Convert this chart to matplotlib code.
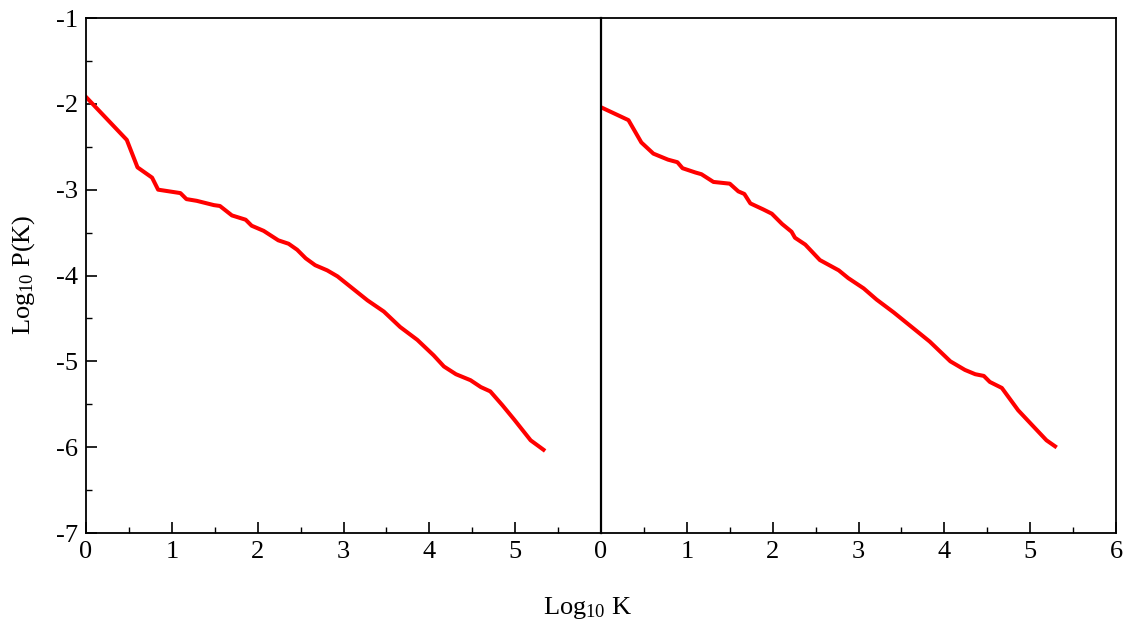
import matplotlib
matplotlib.use("Agg")
import matplotlib.pyplot as plt
from matplotlib.ticker import MultipleLocator, FixedLocator

plt.rcParams['font.family'] = ['Liberation Serif', 'DejaVu Serif']
plt.rcParams['mathtext.fontset'] = 'custom'
plt.rcParams['mathtext.rm'] = 'Liberation Serif'
plt.rcParams['mathtext.it'] = 'Liberation Serif:italic'

# Left panel data
left_x = [0.0, 0.475, 0.60, 0.77, 0.84, 1.10, 1.17, 1.29, 1.49, 1.56, 1.70, 1.86, 1.93,
          2.07, 2.24, 2.36, 2.46, 2.56, 2.67, 2.81, 2.93, 3.08, 3.28, 3.47, 3.66, 3.86,
          4.05, 4.17, 4.31, 4.48, 4.60, 4.71, 4.85, 4.99, 5.18, 5.33]
left_y = [-1.92, -2.42, -2.74, -2.86, -3.00, -3.04, -3.11, -3.13, -3.18, -3.19, -3.30, -3.35, -3.42,
          -3.48, -3.59, -3.63, -3.70, -3.80, -3.88, -3.94, -4.01, -4.13, -4.29, -4.42, -4.60, -4.75,
          -4.93, -5.06, -5.15, -5.22, -5.30, -5.35, -5.51, -5.68, -5.92, -6.03]

# Right panel data
right_x = [0.0, 0.32, 0.47, 0.61, 0.78, 0.89, 0.95, 1.10, 1.17, 1.31, 1.50, 1.60, 1.67, 1.74,
           1.89, 1.99, 2.11, 2.22, 2.26, 2.38, 2.55, 2.77, 2.88, 3.06, 3.21, 3.41, 3.62, 3.83,
           4.07, 4.24, 4.36, 4.46, 4.53, 4.67, 4.86, 5.02, 5.19, 5.29]
right_y = [-2.04, -2.19, -2.45, -2.58, -2.65, -2.68, -2.75, -2.80, -2.82, -2.91, -2.93, -3.02, -3.05, -3.16,
           -3.23, -3.28, -3.40, -3.49, -3.56, -3.64, -3.82, -3.94, -4.03, -4.15, -4.28, -4.43, -4.60, -4.77,
           -5.00, -5.10, -5.15, -5.17, -5.24, -5.31, -5.57, -5.74, -5.92, -5.99]

left_xticks = [0, 1, 2, 3, 4, 5]
right_xticks = [0, 1, 2, 3, 4, 5, 6]
yticks = [-7, -6, -5, -4, -3, -2, -1]

fig = plt.figure(figsize=(11.27, 6.28), dpi=100)
W, H = 1127, 628
x0, x1, x2 = 86, 601, 1116
ytop, ybot = 18, 533
ax1 = fig.add_axes([x0 / W, 1 - ybot / H, (x1 - x0) / W, (ybot - ytop) / H])
ax2 = fig.add_axes([x1 / W, 1 - ybot / H, (x2 - x1) / W, (ybot - ytop) / H])

fs = 19
for ax, xs, ys, xt in ((ax1, left_x, left_y, left_xticks), (ax2, right_x, right_y, right_xticks)):
    ax.plot(xs, ys, color='#ff0000', lw=2.9, solid_joinstyle='round')
    ax.set_xlim(0, 6)
    ax.set_ylim(-7, -1)
    ax.xaxis.set_major_locator(FixedLocator(xt))
    ax.xaxis.set_minor_locator(MultipleLocator(0.5))
    ax.set_xticklabels([str(v) for v in xt], fontsize=fs)
    ax.tick_params(axis='x', which='major', direction='in', length=8, width=1.2, pad=6,
                   top=False, bottom=True)
    ax.tick_params(axis='x', which='minor', direction='in', length=4, width=1.0, top=False)
    for s in ax.spines.values():
        s.set_linewidth(1.3)

ax1.yaxis.set_major_locator(FixedLocator(yticks))
ax1.yaxis.set_minor_locator(MultipleLocator(0.5))
ax1.set_yticklabels([str(v) for v in yticks], fontsize=fs)
ax1.tick_params(axis='y', which='major', direction='in', length=8, width=1.2, pad=6, right=False)
ax1.tick_params(axis='y', which='minor', direction='in', length=4, width=1.0, right=False)
ax1.spines['right'].set_linewidth(0.8)

ax2.set_yticks([])
ax2.tick_params(axis='y', which='both', left=False, right=False, labelleft=False)
ax2.spines['left'].set_linewidth(1.6)

fig.text(588 / W, 1 - 608 / H, r'Log$_{10}$ K', ha='center', va='center', fontsize=fs)
fig.text(24 / W, 1 - 275 / H, r'Log$_{10}$ P(K)', ha='center', va='center', fontsize=fs, rotation=90)

fig.savefig('out.png', dpi=100)
